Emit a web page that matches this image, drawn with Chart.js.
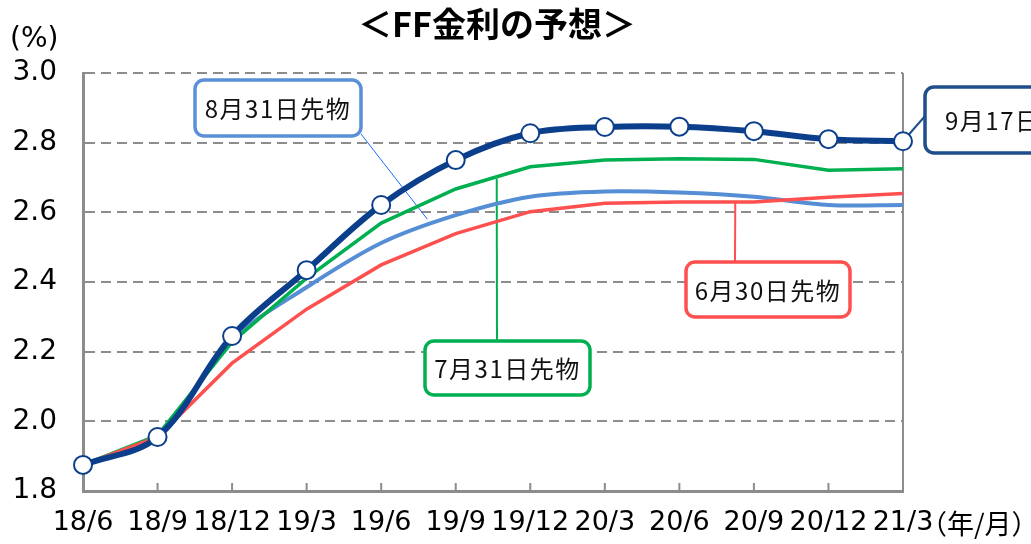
<!DOCTYPE html>
<html>
<head>
<meta charset="utf-8">
<script src="https://cdn.jsdelivr.net/npm/chart.js@4"></script>
<style>
  html, body { margin: 0; padding: 0; background: #fff; }
  #wrap { width: 1031px; height: 544px; position: relative; }
</style>
</head>
<body>
<div id="wrap"><canvas id="ffChart" width="1031" height="544"></canvas></div>
<script>
// data
const months = ['18/6', '18/9', '18/12', '19/3', '19/6', '19/9', '19/12', '20/3', '20/6', '20/9', '20/12', '21/3'];
const sep17 = [1.875, 1.955, 2.245, 2.434, 2.621, 2.750, 2.827, 2.845, 2.846, 2.833, 2.810, 2.804];
const aug31 = [1.875, 1.955, 2.235, 2.385, 2.512, 2.592, 2.645, 2.660, 2.657, 2.645, 2.621, 2.621];
const jul31 = [1.875, 1.960, 2.228, 2.411, 2.569, 2.667, 2.731, 2.750, 2.754, 2.752, 2.721, 2.725];
const jun30 = [1.875, 1.955, 2.167, 2.322, 2.449, 2.539, 2.602, 2.626, 2.630, 2.630, 2.643, 2.654];
const yTicks = [1.8, 2.0, 2.2, 2.4, 2.6, 2.8, 3.0];

const navy = '#0b3f8c';
const gridGray = '#8c8c8c';
const jpFont = '"Noto Sans CJK JP", "Noto Sans", sans-serif';

// callout boxes: box = [x, y, w, h], leader runs from `from` to a point in data space
const callouts = [
  { text: '8月31日先物', border: '#5b8fd6', box: [195, 80, 166, 56], from: [361, 134], at: [4.62, 2.58], line: '#1a6ef5', lw: 1 },
  { text: '7月31日先物', border: '#00b050', box: [425, 341, 165, 54], from: [497, 341], at: [5.55, 2.697], line: '#00b050', lw: 2 },
  { text: '6月30日先物', border: '#ff5050', box: [686, 262, 164, 55], from: [735, 262], at: [8.75, 2.630], line: '#ff5050', lw: 2 },
  { text: '9月17日先物', border: '#1f4e8c', box: [925, 87, 170, 66], from: [925, 116], at: [11, 2.804], line: '#1f4e8c', lw: 2 }
];

const decor = {
  id: 'decor',
  beforeDatasetsDraw(chart) {
    const { ctx, chartArea, scales } = chart;
    ctx.save();
    // right frame
    ctx.strokeStyle = gridGray;
    ctx.lineWidth = 2;
    ctx.beginPath();
    ctx.moveTo(chartArea.right, chartArea.top);
    ctx.lineTo(chartArea.right, chartArea.bottom);
    ctx.stroke();
    // inward x ticks
    months.forEach((m, i) => {
      const x = scales.x.getPixelForValue(i);
      ctx.beginPath();
      ctx.moveTo(x, chartArea.bottom);
      ctx.lineTo(x, chartArea.bottom - 8);
      ctx.stroke();
    });
    // leader lines
    callouts.forEach(c => {
      ctx.strokeStyle = c.line;
      ctx.lineWidth = c.lw;
      ctx.beginPath();
      ctx.moveTo(c.from[0], c.from[1]);
      ctx.lineTo(scales.x.getPixelForValue(c.at[0]), scales.y.getPixelForValue(c.at[1]));
      ctx.stroke();
    });
    ctx.restore();
  },
  afterDraw(chart) {
    const { ctx } = chart;
    ctx.save();
    // title
    ctx.fillStyle = '#000';
    ctx.font = 'bold 34px ' + jpFont;
    ctx.textAlign = 'center';
    ctx.textBaseline = 'middle';
    ctx.fillText('＜FF金利の予想＞', 497, 24);
    // unit labels
    ctx.font = '28px "DejaVu Sans", sans-serif';
    ctx.textAlign = 'left';
    ctx.fillText('(%)', 10, 40);
    ctx.font = '27px ' + jpFont;
    ctx.fillText('（年/月）', 920, 524);
    // callout boxes
    callouts.forEach(c => {
      const [x, y, w, h] = c.box;
      ctx.fillStyle = '#fff';
      ctx.strokeStyle = c.border;
      ctx.lineWidth = 3.5;
      ctx.beginPath();
      ctx.roundRect(x, y, w, h, 9);
      ctx.fill();
      ctx.stroke();
      ctx.fillStyle = '#111';
      ctx.font = '24px ' + jpFont;
      ctx.letterSpacing = '1.5px';
      ctx.textBaseline = 'middle';
      if (x + w > chart.width) {
        ctx.textAlign = 'left';
        ctx.fillText(c.text, x + 20, y + h / 2 + 1);
      } else {
        ctx.textAlign = 'center';
        ctx.fillText(c.text, x + w / 2, y + h / 2 + 1);
      }
    });
    ctx.restore();
  }
};

const line = (data, color, width, tension, order, extra) => Object.assign({
  data: data,
  borderColor: color,
  backgroundColor: color,
  borderWidth: width,
  tension: tension,
  pointRadius: 0,
  fill: false,
  order: order
}, extra || {});

new Chart(document.getElementById('ffChart'), {
  type: 'line',
  data: {
    labels: months,
    datasets: [
      line(sep17, navy, 6, 0.35, 0, {
        pointRadius: 9,
        pointBackgroundColor: '#fff',
        pointBorderColor: navy,
        pointBorderWidth: 2
      }),
      line(jun30, '#ff5050', 3.5, 0, 1),
      line(jul31, '#00b050', 3.5, 0, 2),
      line(aug31, '#558ed5', 4, 0.3, 3)
    ]
  },
  options: {
    responsive: false,
    animation: false,
    layout: { padding: { left: 0, top: 73, right: 128, bottom: 0 } },
    plugins: {
      legend: { display: false },
      tooltip: { enabled: false },
      title: { display: false }
    },
    scales: {
      x: {
        offset: false,
        grid: { display: false, drawTicks: false },
        border: { display: true, color: gridGray, width: 3 },
        ticks: {
          color: '#000',
          font: { family: '"DejaVu Sans", sans-serif', size: 27 },
          padding: 16,
          maxRotation: 0,
          autoSkip: false
        },
        afterFit(scale) { scale.height = 53; }
      },
      y: {
        min: 1.8,
        max: 3.0,
        afterBuildTicks(scale) { scale.ticks = yTicks.map(v => ({ value: v })); },
        grid: {
          color: gridGray,
          lineWidth: 2,
          drawTicks: false
        },
        border: { display: true, color: gridGray, width: 3, dash: [10, 6] },
        ticks: {
          color: '#000',
          font: { family: '"DejaVu Sans", sans-serif', size: 28 },
          padding: 26,
          callback: v => Number(v).toFixed(1)
        },
        afterFit(scale) { scale.width = 83; }
      }
    }
  },
  plugins: [decor]
});
</script>
</body>
</html>
